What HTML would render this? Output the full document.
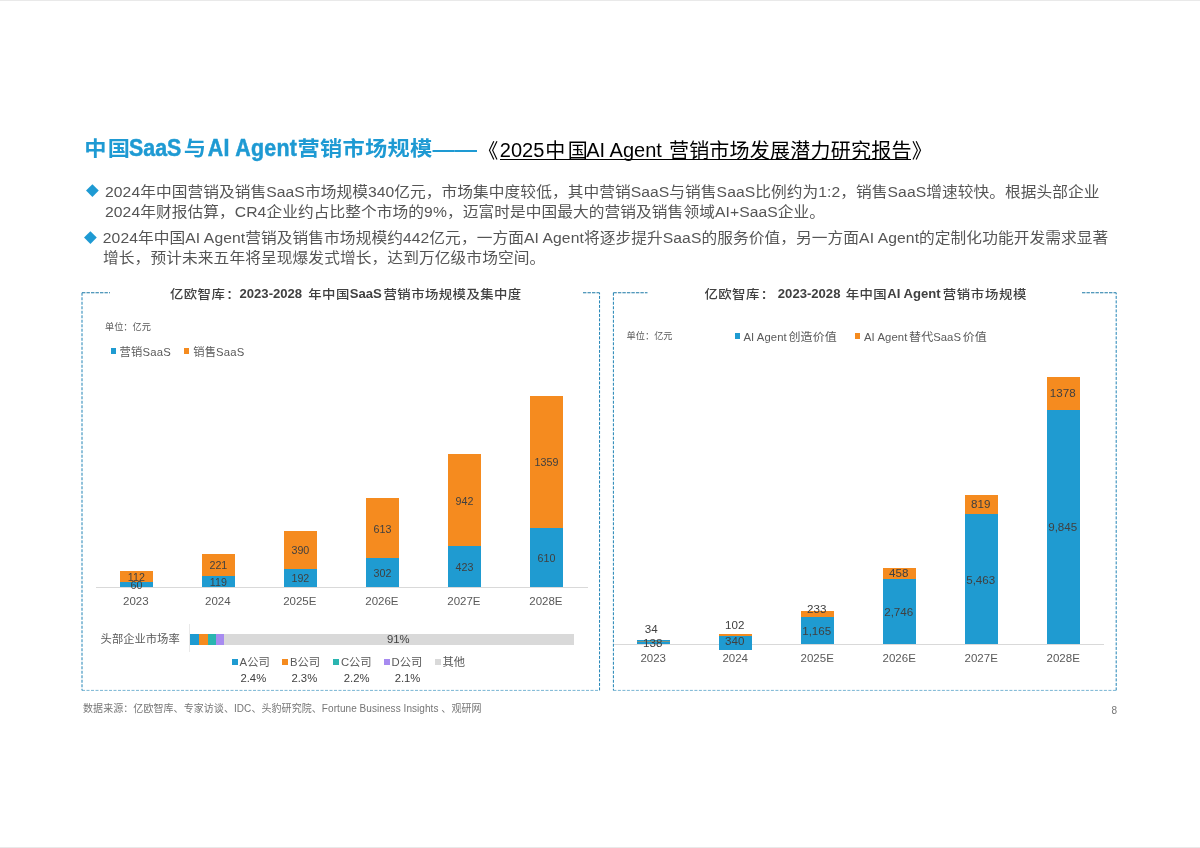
<!DOCTYPE html>
<html lang="zh-CN">
<head>
<meta charset="utf-8">
<title>中国SaaS与AI Agent营销市场规模</title>
<style>
html,body{margin:0;padding:0;}
body{width:1200px;height:848px;position:relative;overflow:hidden;background:#fff;
  font-family:"Liberation Sans","Noto Sans CJK SC",sans-serif;color:#595959;}
.abs{position:absolute;white-space:nowrap;line-height:1;}
.edge{position:absolute;left:0;width:1200px;height:1px;background:#e9e9e9;}
.title{font-size:22.25px;font-weight:bold;color:#1e9ad3;transform-origin:0 0;transform:scaleY(.935);}
.title.l{font-size:21.4px;transform:scaleY(1.09);-webkit-text-stroke:.45px #1e9ad3;}
.title2{font-size:20px;color:#000;}
.bl{font-size:15.7px;color:#555;transform-origin:0 55%;transform:scaleY(.94);}
.dia{position:absolute;width:8.8px;height:8.8px;background:#1e9ad3;transform:rotate(45deg);}
.ct{font-size:13.4px;color:#404040;font-weight:500;letter-spacing:.42px;transform-origin:0 100%;transform:scaleY(.92);}
.ct.l{font-weight:bold;font-size:13.1px;letter-spacing:0;transform:none;}
.grp{left:0;top:0;font-size:0;line-height:0;}
.p{display:inline-block;position:relative;line-height:1;vertical-align:top;white-space:nowrap;}
.bar{position:absolute;}
.b{background:#1f9bd1;}
.o{background:#f58b1f;}
.lab{position:absolute;white-space:nowrap;line-height:1;font-size:10.7px;color:#404040;transform:translate(-50%,-50%);}
.xl{position:absolute;white-space:nowrap;line-height:1;font-size:11.5px;color:#595959;transform:translate(-50%,-50%);}
.lab.r{font-size:11.6px}
.sm{font-size:10px;color:#595959;}
.sm2{font-size:9.2px;color:#595959;}
.lg{font-size:11.3px;color:#595959;}
.lg .c{font-size:12px;margin-left:1.7px;letter-spacing:.12px;position:relative;top:.3px;display:inline-block;transform:scaleY(.93);transform-origin:0 88%}
.lg .e{letter-spacing:.08px}
.sq{position:absolute;width:6px;height:6px;}
.frame{position:absolute;}
</style>
</head>
<body>
<div class="edge" style="top:0"></div>
<div class="edge" style="top:847px"></div>

<!-- Title -->
<div class="abs grp"><span class="p title" style="margin-left:84.19px;top:139.30px;letter-spacing:1px">中</span><span class="p title" style="margin-left:0.25px;top:139.30px">国</span><span class="p title l" style="margin-left:-0.94px;top:136.50px">SaaS</span><span class="p title" style="margin-left:2.47px;top:139.30px">与</span><span class="p title l" style="margin-left:1.75px;top:136.50px;letter-spacing:.28px">AI Agent</span><span class="p title" style="margin-left:0.41px;top:139.30px;letter-spacing:.25px">营销市场规模<span style="letter-spacing:0">——</span></span></div>
<div class="abs grp"><span class="p title2" style="margin-left:478.30px;top:140.80px">《</span><span class="p title2" style="margin-left:1.50px;top:140.00px">2025</span><span class="p title2" style="margin-left:0.91px;top:140.80px">中</span><span class="p title2" style="margin-left:2.50px;top:140.80px">国</span><span class="p title2" style="margin-left:-1.50px;top:140.00px">AI Agent </span><span class="p title2" style="margin-left:7.08px;top:140.80px;letter-spacing:.23px">营销市场发展潜力研究报告</span><span class="p title2" style="margin-left:0.05px;top:140.80px">》</span></div>
<div style="position:absolute;left:500px;top:158.7px;width:411px;height:1.2px;background:#000"></div>

<!-- Bullets -->
<div class="dia" style="left:88.2px;top:186.1px"></div>
<div class="dia" style="left:86.1px;top:232.8px"></div>
<div class="abs bl" style="left:105px;top:183.9px;letter-spacing:0.07px">2024年中国营销及销售SaaS市场规模340亿元，市场集中度较低，其中营销SaaS与销售SaaS比例约为1:2，销售SaaS增速较快。根据头部企业</div>
<div class="abs bl" style="left:105px;top:203.6px;letter-spacing:0.078px">2024年财报估算，CR4企业约占比整个市场的9%，迈富时是中国最大的营销及销售领域AI+SaaS企业。</div>
<div class="abs bl" style="left:102.8px;top:230.3px;letter-spacing:0.08px">2024年中国AI Agent营销及销售市场规模约442亿元，一方面AI Agent将逐步提升SaaS的服务价值，另一方面AI Agent的定制化功能开发需求显著</div>
<div class="abs bl" style="left:103px;top:249.8px;letter-spacing:0.11px">增长，预计未来五年将呈现爆发式增长，达到万亿级市场空间。</div>

<!-- Frames -->
<svg class="frame" style="left:0;top:0" width="1200" height="848" viewBox="0 0 1200 848" fill="none" stroke="#2083b5" stroke-width="1" stroke-dasharray="3 1.5">
  <path d="M82 292.75V690.4M599.55 690.4V292.75M613.4 292.75V690.4M1116.2 690.4V292.75"/>
  <path d="M82 292.75H110M583 292.75H599.55M613.4 292.75H647.5M1082 292.75H1116.2" stroke="#1b78a6" stroke-dasharray="3.4 1.1"/>
  <path d="M82 690.4H599.55M613.4 690.4H1116.2" stroke-opacity=".6"/>
</svg>

<!-- Chart titles -->
<div class="abs grp"><span class="p ct" style="margin-left:170.00px;top:288.00px">亿欧智库<span style="position:relative;left:.9px">：</span></span><span class="p ct l" style="margin-left:0.44px;top:286.69px">2023-2028 </span><span class="p ct" style="margin-left:6.19px;top:288.00px">年中国</span><span class="p ct l" style="margin-left:-0.05px;top:286.69px">SaaS</span><span class="p ct" style="margin-left:1.80px;top:288.00px">营销市场规模及集中度</span></div>
<div class="abs grp"><span class="p ct" style="margin-left:704.50px;top:288.00px">亿欧智库<span style="position:relative;left:.9px">：</span></span><span class="p ct l" style="margin-left:4.25px;top:286.69px">2023-2028 </span><span class="p ct" style="margin-left:5.19px;top:288.00px">年中国</span><span class="p ct l" style="margin-left:0.27px;top:286.69px">AI Agent</span><span class="p ct" style="margin-left:1.97px;top:288.00px;letter-spacing:.7px">营销市场规模</span></div>

<!-- CHART-LEFT -->
<div class="abs sm2" style="left:105px;top:323.4px">单位：亿元</div>
<div class="sq b" style="left:111.2px;top:348.3px;width:4.8px;height:5.3px"></div>
<div class="abs lg" style="left:119.6px;top:346.9px;letter-spacing:.2px">营销SaaS</div>
<div class="sq o" style="left:184.4px;top:348.3px;width:4.8px;height:5.3px"></div>
<div class="abs lg" style="left:193.2px;top:346.9px;letter-spacing:.15px">销售SaaS</div>
<div class="bar o" style="left:120.2px;top:570.7px;width:32.4px;height:11.2px"></div>
<div class="bar b" style="left:120.2px;top:581.6px;width:32.4px;height:5.4px"></div>
<div class="bar o" style="left:202.2px;top:554.4px;width:32.4px;height:21.8px"></div>
<div class="bar b" style="left:202.2px;top:575.9px;width:32.4px;height:11.1px"></div>
<div class="bar o" style="left:284.2px;top:530.8px;width:32.4px;height:38.3px"></div>
<div class="bar b" style="left:284.2px;top:568.8px;width:32.4px;height:18.2px"></div>
<div class="bar o" style="left:366.3px;top:498.3px;width:32.4px;height:60.1px"></div>
<div class="bar b" style="left:366.3px;top:558.1px;width:32.4px;height:28.9px"></div>
<div class="bar o" style="left:448.3px;top:454.4px;width:32.4px;height:92.1px"></div>
<div class="bar b" style="left:448.3px;top:546.3px;width:32.4px;height:40.7px"></div>
<div class="bar o" style="left:530.3px;top:395.5px;width:32.4px;height:132.8px"></div>
<div class="bar b" style="left:530.3px;top:528.0px;width:32.4px;height:59.0px"></div>
<div class="bar" style="left:95.5px;top:587px;width:492.2px;height:1px;background:#d9d9d9"></div>
<div class="lab" style="left:136.4px;top:576.5px">112</div>
<div class="lab" style="left:136.4px;top:584.9px">60</div>
<div class="xl" style="left:135.8px;top:601.9px">2023</div>
<div class="lab" style="left:218.4px;top:565.4px">221</div>
<div class="lab" style="left:218.4px;top:582.0px">119</div>
<div class="xl" style="left:217.8px;top:601.9px">2024</div>
<div class="lab" style="left:300.4px;top:550.1px">390</div>
<div class="lab" style="left:300.4px;top:578.4px">192</div>
<div class="xl" style="left:299.8px;top:601.9px">2025E</div>
<div class="lab" style="left:382.5px;top:528.5px">613</div>
<div class="lab" style="left:382.5px;top:573.1px">302</div>
<div class="xl" style="left:381.9px;top:601.9px">2026E</div>
<div class="lab" style="left:464.5px;top:500.6px">942</div>
<div class="lab" style="left:464.5px;top:567.2px">423</div>
<div class="xl" style="left:463.9px;top:601.9px">2027E</div>
<div class="lab" style="left:546.5px;top:462.1px">1359</div>
<div class="lab" style="left:546.5px;top:558.1px">610</div>
<div class="xl" style="left:545.9px;top:601.9px">2028E</div>
<div class="abs lg" style="left:100.6px;top:634.4px">头部企业市场率</div>
<div class="bar" style="left:189.3px;top:624.4px;width:1px;height:27.6px;background:#e9e9e9"></div>
<div class="bar" style="left:190.3px;top:633.7px;width:9.1px;height:11px;background:#1f9bd1"></div>
<div class="bar" style="left:199.4px;top:633.7px;width:8.4px;height:11px;background:#f58b1f"></div>
<div class="bar" style="left:207.8px;top:633.7px;width:8.5px;height:11px;background:#2ab5b0"></div>
<div class="bar" style="left:216.3px;top:633.7px;width:8.0px;height:11px;background:#a78bf0"></div>
<div class="bar" style="left:224.3px;top:633.7px;width:350.1px;height:11px;background:#d9d9d9"></div>
<div class="lab" style="left:398.3px;top:639.7px;font-size:11.3px">91%</div>
<div class="sq" style="left:231.9px;top:658.8px;width:6.2px;height:6.2px;background:#1f9bd1"></div>
<div class="abs lg" style="left:239.6px;top:656.8px">A公司</div>
<div class="sq" style="left:282.3px;top:658.8px;width:6.2px;height:6.2px;background:#f58b1f"></div>
<div class="abs lg" style="left:290.0px;top:656.8px">B公司</div>
<div class="sq" style="left:333.2px;top:658.8px;width:6.2px;height:6.2px;background:#2ab5b0"></div>
<div class="abs lg" style="left:340.9px;top:656.8px">C公司</div>
<div class="sq" style="left:383.9px;top:658.8px;width:6.2px;height:6.2px;background:#a78bf0"></div>
<div class="abs lg" style="left:391.6px;top:656.8px">D公司</div>
<div class="sq" style="left:434.8px;top:658.8px;width:6.2px;height:6.2px;background:#d9d9d9"></div>
<div class="abs lg" style="left:442.5px;top:656.8px">其他</div>
<div class="lab" style="left:253.3px;top:679.2px;font-size:11.3px">2.4%</div>
<div class="lab" style="left:304.3px;top:679.2px;font-size:11.3px">2.3%</div>
<div class="lab" style="left:356.6px;top:679.2px;font-size:11.3px">2.2%</div>
<div class="lab" style="left:407.5px;top:679.2px;font-size:11.3px">2.1%</div>
<!-- CHART-RIGHT -->
<div class="abs sm2" style="left:626.6px;top:331.7px">单位：亿元</div>
<div class="sq b" style="left:735px;top:333px;width:5.1px;height:6px"></div>
<div class="abs lg" style="left:743.4px;top:330.5px"><span class="e">AI Agent</span><span class="c">创造价值</span></div>
<div class="sq o" style="left:855.2px;top:333px;width:5.1px;height:6px"></div>
<div class="abs lg" style="left:864px;top:330.5px"><span class="e">AI Agent</span><span class="c">替代</span>SaaS<span class="c">价值</span></div>
<div class="bar" style="left:613.6px;top:644px;width:490.4px;height:1px;background:#d9d9d9"></div>
<div class="bar b" style="left:636.7px;top:639.9px;width:33px;height:4.3px"></div>
<div class="bar o" style="left:636.7px;top:640.8px;width:33px;height:.6px;opacity:.45"></div>
<div class="lab r" style="left:651.2px;top:629.2px">34</div>
<div class="lab r" style="left:652.7px;top:643.1px">138</div>
<div class="xl" style="left:653.2px;top:658.5px">2023</div>
<div class="bar o" style="left:718.7px;top:633.9px;width:33px;height:2.7px"></div>
<div class="bar b" style="left:718.7px;top:636.3px;width:33px;height:13.7px"></div>
<div class="lab r" style="left:734.7px;top:625.4px">102</div>
<div class="lab r" style="left:734.7px;top:640.6px">340</div>
<div class="xl" style="left:735.2px;top:658.5px">2024</div>
<div class="bar o" style="left:800.7px;top:611.1px;width:33px;height:5.9px"></div>
<div class="bar b" style="left:800.7px;top:616.6px;width:33px;height:27.4px"></div>
<div class="lab r" style="left:816.7px;top:609.2px">233</div>
<div class="lab r" style="left:816.7px;top:630.8px">1,165</div>
<div class="xl" style="left:817.2px;top:658.5px">2025E</div>
<div class="bar o" style="left:882.7px;top:568.0px;width:33px;height:11.2px"></div>
<div class="bar b" style="left:882.7px;top:579.0px;width:33px;height:65.0px"></div>
<div class="lab r" style="left:898.7px;top:572.9px">458</div>
<div class="lab r" style="left:898.7px;top:612.0px">2,746</div>
<div class="xl" style="left:899.2px;top:658.5px">2026E</div>
<div class="bar o" style="left:964.7px;top:494.7px;width:33px;height:19.8px"></div>
<div class="bar b" style="left:964.7px;top:514.2px;width:33px;height:129.8px"></div>
<div class="lab r" style="left:980.7px;top:504.2px">819</div>
<div class="lab r" style="left:980.7px;top:579.6px">5,463</div>
<div class="xl" style="left:981.2px;top:658.5px">2027E</div>
<div class="bar o" style="left:1046.7px;top:377.0px;width:33px;height:33.1px"></div>
<div class="bar b" style="left:1046.7px;top:409.8px;width:33px;height:234.2px"></div>
<div class="lab r" style="left:1062.7px;top:393.2px">1378</div>
<div class="lab r" style="left:1062.7px;top:527.4px">9,845</div>
<div class="xl" style="left:1063.2px;top:658.5px">2028E</div>
<!-- Footer -->
<div class="abs sm" style="left:83px;top:704px;color:#757575;letter-spacing:.065px">数据来源：亿欧智库、专家访谈、IDC、头豹研究院、Fortune Business Insights 、观研网</div>
<div class="abs sm" style="left:1111.6px;top:705.6px;color:#757575">8</div>
</body>
</html>
